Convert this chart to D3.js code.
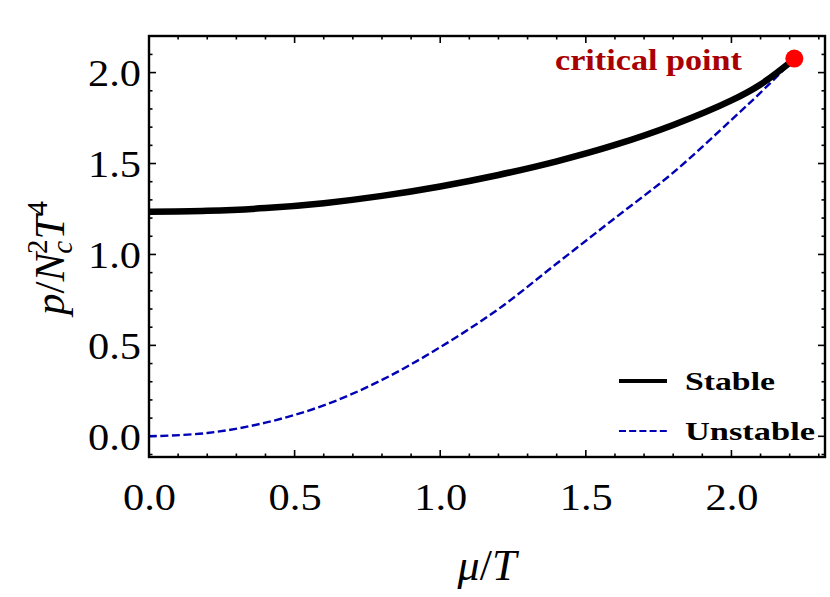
<!DOCTYPE html>
<html><head><meta charset="utf-8">
<script src="https://cdn.jsdelivr.net/npm/d3@7"></script>
<style>
body{margin:0;background:#fff;}
text{font-family:"Liberation Serif","DejaVu Serif",serif;}
</style></head>
<body>
<svg id="c" width="830" height="597"></svg>
<script>
// ---- data ----
const muStable   = [0.0, 0.2, 0.4, 0.6, 0.8, 1.0, 1.2, 1.4, 1.6, 1.8, 2.0, 2.1, 2.216];
const pStable    = [1.235, 1.240, 1.255, 1.282, 1.322, 1.374, 1.437, 1.512, 1.602, 1.712, 1.847, 1.935, 2.075];
const muUnstable = [0.0, 0.2, 0.4, 0.6, 0.8, 1.0, 1.2, 1.4, 1.6, 1.8, 2.0, 2.1, 2.216];
const pUnstable  = [0.0, 0.018, 0.075, 0.170, 0.310, 0.490, 0.700, 0.950, 1.200, 1.450, 1.740, 1.890, 2.075];
const criticalPoint = [2.216, 2.077];
const xTicks = [0.0, 0.5, 1.0, 1.5, 2.0];
const yTicks = [0.0, 0.5, 1.0, 1.5, 2.0];
const seriesNames = ["Stable", "Unstable"];
const annotation = "critical point";

const svg = d3.select("#c");
const L = 149, R = 825, T = 36, B = 457;
const x = d3.scaleLinear().domain([0, 2.3213]).range([L, R]);
const y = d3.scaleLinear().domain([-0.1138, 2.2012]).range([B, T]);

// minor & major ticks on all sides (inward)
const minorX = d3.range(0, 2.33, 0.1).map(v => +v.toFixed(2));
const minorY = d3.range(-0.1, 2.21, 0.1).map(v => +v.toFixed(2));
const isMajor = v => Math.abs(v * 2 - Math.round(v * 2)) < 1e-6;
const tg = svg.append("g").attr("stroke", "#000").attr("stroke-width", 1.6);
minorX.forEach(v => {
  const len = isMajor(v) ? 7 : 3.5;
  tg.append("line").attr("x1", x(v)).attr("x2", x(v)).attr("y1", B).attr("y2", B - len);
  tg.append("line").attr("x1", x(v)).attr("x2", x(v)).attr("y1", T).attr("y2", T + len);
});
minorY.forEach(v => {
  const len = isMajor(v) ? 7 : 3.5;
  tg.append("line").attr("y1", y(v)).attr("y2", y(v)).attr("x1", L).attr("x2", L + len);
  tg.append("line").attr("y1", y(v)).attr("y2", y(v)).attr("x1", R).attr("x2", R - len);
});

// axes labels via d3 axes (no tick lines)
const xAxis = svg.append("g").attr("transform", `translate(0,${B})`)
  .call(d3.axisBottom(x).tickValues(xTicks).tickFormat(d3.format(".1f")).tickSize(0).tickPadding(0));
xAxis.select(".domain").remove();
xAxis.selectAll("text").attr("font-size", 38).attr("dy", 0).attr("y", 53)
  .attr("font-family", "Liberation Serif").attr("fill", "#000")
  .attr("textLength", 53).attr("lengthAdjust", "spacingAndGlyphs");
const yAxis = svg.append("g").attr("transform", `translate(${L},0)`)
  .call(d3.axisLeft(y).tickValues(yTicks).tickFormat(d3.format(".1f")).tickSize(0).tickPadding(0));
yAxis.select(".domain").remove();
yAxis.selectAll("text").attr("font-size", 38).attr("x", -8).attr("dy", "0.34em")
  .attr("font-family", "Liberation Serif").attr("fill", "#000")
  .attr("textLength", 53).attr("lengthAdjust", "spacingAndGlyphs");

// curves
const line = d3.line().x(d => x(d[0])).y(d => y(d[1])).curve(d3.curveCatmullRom.alpha(0.5));
const uData = muUnstable.map((m, i) => [m, pUnstable[i]]);
const sData = muStable.map((m, i) => [m, pStable[i]]);
svg.append("path").datum(uData).attr("d", line).attr("fill", "none")
  .attr("stroke", "#0000b4").attr("stroke-width", 2.4).attr("stroke-dasharray", "8,3.5");
svg.append("path").datum(sData).attr("d", line).attr("fill", "none")
  .attr("stroke", "#000").attr("stroke-width", 6.5).attr("stroke-linecap", "butt");

// frame
svg.append("rect").attr("x", L).attr("y", T).attr("width", R - L).attr("height", B - T)
  .attr("fill", "none").attr("stroke", "#000").attr("stroke-width", 2.4);

// critical point
svg.append("circle").attr("cx", x(criticalPoint[0])).attr("cy", y(criticalPoint[1])).attr("r", 9).attr("fill", "#ff0000");
svg.append("text").attr("x", 555).attr("y", 70)
  .attr("font-size", 29).attr("font-weight", "bold").attr("fill", "#a80000")
  .attr("textLength", 187).attr("lengthAdjust", "spacingAndGlyphs").text(annotation);

// legend
const lg = svg.append("g");
lg.append("line").attr("x1", 619).attr("x2", 667).attr("y1", 381).attr("y2", 381)
  .attr("stroke", "#000").attr("stroke-width", 4);
lg.append("text").attr("x", 685).attr("y", 390).attr("font-size", 25).attr("font-weight", "bold")
  .attr("textLength", 90).attr("lengthAdjust", "spacingAndGlyphs").text(seriesNames[0]);
lg.append("line").attr("x1", 619).attr("x2", 667).attr("y1", 431).attr("y2", 431)
  .attr("stroke", "#0000b4").attr("stroke-width", 1.8).attr("stroke-dasharray", "7,3.2");
lg.append("text").attr("x", 685).attr("y", 440).attr("font-size", 25).attr("font-weight", "bold")
  .attr("textLength", 130).attr("lengthAdjust", "spacingAndGlyphs").text(seriesNames[1]);

// axis titles
const xt = svg.append("text").attr("x", 487).attr("y", 580).attr("text-anchor", "middle")
  .attr("font-size", 44).attr("font-style", "italic");
xt.append("tspan").text("μ");
xt.append("tspan").attr("font-style", "normal").text("/");
xt.append("tspan").text("T");

const yt = svg.append("text").attr("transform", "translate(64,258) rotate(-90)")
  .attr("text-anchor", "middle").attr("font-size", 43).attr("font-style", "italic");
yt.append("tspan").text("p");
yt.append("tspan").attr("font-style", "normal").text("/");
yt.append("tspan").text("N");
yt.append("tspan").attr("font-size", 29).attr("dy", 8).attr("dx", -1).text("c");
yt.append("tspan").attr("font-size", 29).attr("font-style", "normal").attr("dy", -25).attr("dx", -13).text("2");
yt.append("tspan").attr("dy", 17).text("T");
yt.append("tspan").attr("font-size", 29).attr("font-style", "normal").attr("dy", -17).text("4");
</script>
</body></html>
